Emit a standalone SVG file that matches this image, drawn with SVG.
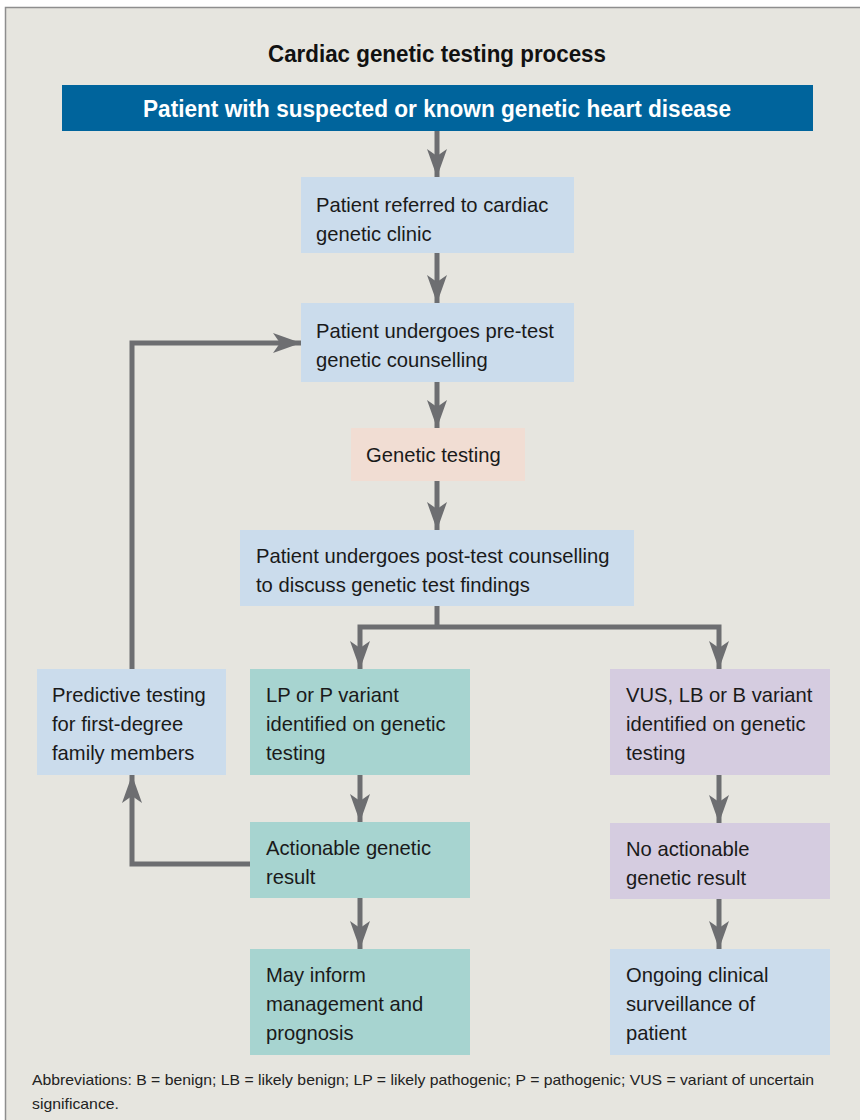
<svg xmlns="http://www.w3.org/2000/svg" width="860" height="1120" viewBox="0 0 860 1120">
<style>
  .t { font-family: "Liberation Sans", Arial, sans-serif; font-size: 20.2px; fill: #1a1a1a; }
  .blue { fill: #cbdcec; }
  .pink { fill: #f1ddd3; }
  .teal { fill: #a7d4d0; }
  .lav { fill: #d5cce0; }
  .conn { fill: none; stroke: #6d6e71; stroke-width: 5; marker-end: url(#ah); }
  .connp { fill: none; stroke: #6d6e71; stroke-width: 5; }
  .foot { font-family: "Liberation Sans", Arial, sans-serif; font-size: 15px; fill: #222; }
</style>
<defs>
  <marker id="ah" viewBox="0 0 28 20" refX="28" refY="10" markerWidth="28" markerHeight="20" orient="auto" markerUnits="userSpaceOnUse">
    <path d="M0,0 L28,10 L0,20 L7,10 Z" fill="#6d6e71"/>
  </marker>
</defs>
<rect x="0" y="0" width="860" height="1120" fill="#ffffff"/>
<rect x="5.5" y="7.5" width="880" height="1130" fill="#e6e5df" stroke="#8e8e8e" stroke-width="1.5"/>

<text x="437" y="61.5" text-anchor="middle" style="font-family:'Liberation Sans', Arial, sans-serif; font-weight:bold; font-size:24px; fill:#111;" textLength="338" lengthAdjust="spacingAndGlyphs">Cardiac genetic testing process</text>

<g id="connectors">
  <path class="conn" d="M437,131 V177"/>
  <path class="conn" d="M437,253 V303"/>
  <path class="conn" d="M437,382 V428"/>
  <path class="conn" d="M437,481 V530"/>
  <path class="connp" d="M437,606 V627"/>
  <path class="conn" d="M437,627 H360 V669"/>
  <path class="conn" d="M437,627 H719 V669"/>
  <path class="conn" d="M132,669 V343 H301"/>
  <path class="conn" d="M360,775 V822"/>
  <path class="conn" d="M250,864 H132 V775"/>
  <path class="conn" d="M360,898 V949"/>
  <path class="conn" d="M719,775 V823"/>
  <path class="conn" d="M719,899 V949"/>
</g>

<g id="n-start">
  <rect x="62" y="85" width="751" height="46" fill="#00649c"/>
  <text x="437" y="116.5" text-anchor="middle" style="font-family:'Liberation Sans', Arial, sans-serif; font-weight:bold; font-size:23.5px; fill:#fff;" textLength="588" lengthAdjust="spacingAndGlyphs">Patient with suspected or known genetic heart disease</text>
</g>

<g id="n-referred">
  <rect class="blue" x="301" y="177" width="273" height="76"/>
  <text class="t" x="316" y="212">Patient referred to cardiac</text>
  <text class="t" x="316" y="241">genetic clinic</text>
</g>

<g id="n-pretest">
  <rect class="blue" x="301" y="303" width="273" height="79"/>
  <text class="t" x="316" y="338">Patient undergoes pre-test</text>
  <text class="t" x="316" y="367">genetic counselling</text>
</g>

<g id="n-testing">
  <rect class="pink" x="351" y="428" width="174" height="53"/>
  <text class="t" x="366" y="462">Genetic testing</text>
</g>

<g id="n-posttest">
  <rect class="blue" x="240" y="530" width="394" height="76"/>
  <text class="t" x="256" y="563">Patient undergoes post-test counselling</text>
  <text class="t" x="256" y="592">to discuss genetic test findings</text>
</g>

<g id="n-predictive">
  <rect class="blue" x="37" y="669" width="189" height="106"/>
  <text class="t" x="52" y="702">Predictive testing</text>
  <text class="t" x="52" y="731">for first-degree</text>
  <text class="t" x="52" y="760">family members</text>
</g>

<g id="n-lp">
  <rect class="teal" x="250" y="669" width="220" height="106"/>
  <text class="t" x="266" y="702">LP or P variant</text>
  <text class="t" x="266" y="731">identified on genetic</text>
  <text class="t" x="266" y="760">testing</text>
</g>

<g id="n-vus">
  <rect class="lav" x="610" y="669" width="220" height="106"/>
  <text class="t" x="626" y="702">VUS, LB or B variant</text>
  <text class="t" x="626" y="731">identified on genetic</text>
  <text class="t" x="626" y="760">testing</text>
</g>

<g id="n-actionable">
  <rect class="teal" x="250" y="822" width="220" height="76"/>
  <text class="t" x="266" y="855">Actionable genetic</text>
  <text class="t" x="266" y="884">result</text>
</g>

<g id="n-noactionable">
  <rect class="lav" x="610" y="823" width="220" height="76"/>
  <text class="t" x="626" y="856">No actionable</text>
  <text class="t" x="626" y="885">genetic result</text>
</g>

<g id="n-inform">
  <rect class="teal" x="250" y="949" width="220" height="106"/>
  <text class="t" x="266" y="982">May inform</text>
  <text class="t" x="266" y="1011">management and</text>
  <text class="t" x="266" y="1040">prognosis</text>
</g>

<g id="n-surveillance">
  <rect class="blue" x="610" y="949" width="220" height="106"/>
  <text class="t" x="626" y="982">Ongoing clinical</text>
  <text class="t" x="626" y="1011">surveillance of</text>
  <text class="t" x="626" y="1040">patient</text>
</g>

<text class="foot" x="32" y="1085" textLength="782" lengthAdjust="spacingAndGlyphs">Abbreviations: B = benign; LB = likely benign; LP = likely pathogenic; P = pathogenic; VUS = variant of uncertain</text>
<text class="foot" x="32" y="1109" textLength="87" lengthAdjust="spacingAndGlyphs">significance.</text>
</svg>
